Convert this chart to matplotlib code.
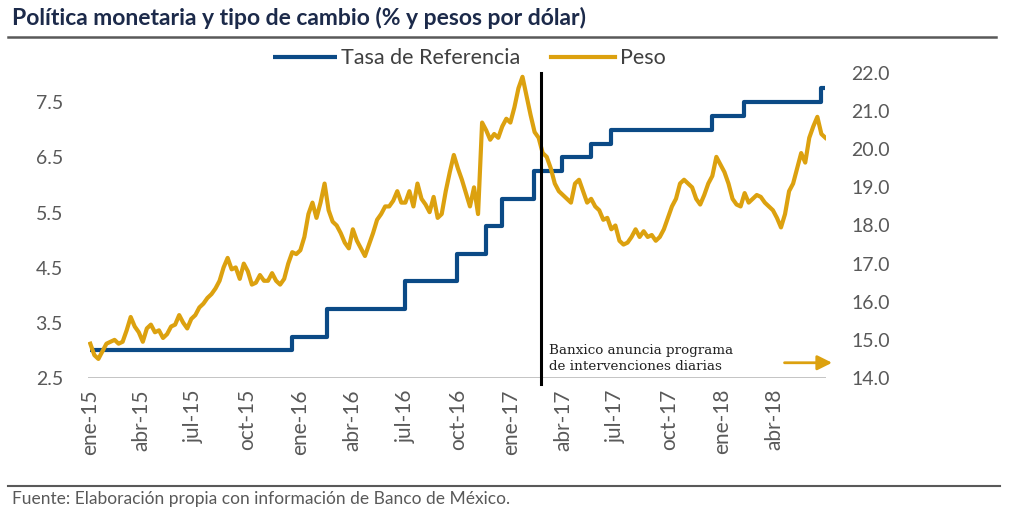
import matplotlib
matplotlib.use("Agg")
import matplotlib.pyplot as plt
import pandas as pd

plt.rcParams['font.family'] = ['Lato', 'DejaVu Sans']

# Tasa de referencia (fechas de cambio y nivel, %)
tasa_fechas = ['2015-01-02', '2015-12-17', '2016-02-17', '2016-06-30', '2016-09-29',
               '2016-11-17', '2016-12-15', '2017-02-09', '2017-03-30', '2017-05-18',
               '2017-06-22', '2017-12-14', '2018-02-08', '2018-06-21', '2018-06-29']
tasa_valores = [3.00, 3.25, 3.75, 4.25, 4.75, 5.25, 5.75, 6.25, 6.50, 6.75,
                7.00, 7.25, 7.50, 7.75, 7.75]

# Peso por dólar, semanal (viernes) desde ene-2015
peso = [
    # 2015
    14.90, 14.60, 14.50, 14.70, 14.90,
    14.95, 15.00, 14.90, 14.95,
    15.25, 15.60, 15.35, 15.20,
    14.95, 15.30, 15.40, 15.20,
    15.25, 15.05, 15.15, 15.35, 15.40,
    15.65, 15.45, 15.30, 15.55,
    15.65, 15.85, 15.95, 16.10, 16.20,
    16.35, 16.55, 16.90, 17.15,
    16.85, 16.90, 16.60, 17.00,
    16.80, 16.45, 16.50, 16.70, 16.55,
    16.55, 16.75, 16.55, 16.45,
    16.60, 17.00, 17.30, 17.25,
    # 2016
    17.35, 17.70, 18.30, 18.60, 18.20,
    18.60, 19.10, 18.40, 18.10,
    18.00, 17.80, 17.55, 17.40,
    17.90, 17.60, 17.40, 17.20, 17.50,
    17.80, 18.15, 18.30, 18.50,
    18.50, 18.65, 18.90, 18.60,
    18.60, 18.90, 18.50, 19.10, 18.70,
    18.55, 18.35, 18.75, 18.20,
    18.30, 18.90, 19.40, 19.85, 19.50,
    19.20, 18.85, 18.50, 19.00,
    18.30, 20.70, 20.50, 20.25,
    20.40, 20.30, 20.60, 20.80, 20.70,
    # 2017
    21.10, 21.60, 21.90, 21.40,
    20.90, 20.45, 20.30, 19.90,
    19.80, 19.50, 19.10, 18.90, 18.80,
    18.70, 18.60, 19.10, 19.20,
    18.90, 18.60, 18.70, 18.50,
    18.40, 18.15, 18.20, 17.90, 18.00,
    17.60, 17.50, 17.55, 17.70,
    17.90, 17.70, 17.85, 17.70,
    17.75, 17.60, 17.70, 17.90, 18.20,
    18.50, 18.70, 19.10, 19.20,
    19.10, 19.00, 18.70, 18.55,
    18.80, 19.10, 19.30, 19.80, 19.60,
    # 2018
    19.40, 19.10, 18.70, 18.55,
    18.50, 18.85, 18.60, 18.70,
    18.80, 18.75, 18.60, 18.50, 18.40,
    18.20, 17.95, 18.30, 18.90,
    19.10, 19.50, 19.90, 19.65,
    20.30, 20.60, 20.85, 20.40, 20.30,
]
peso_fechas = pd.date_range('2015-01-02', periods=len(peso), freq='W-FRI')

ticks_x = pd.date_range('2015-01-01', '2018-04-01', freq='QS')
ticks_x_etiquetas = ['ene-15', 'abr-15', 'jul-15', 'oct-15', 'ene-16', 'abr-16', 'jul-16',
                     'oct-16', 'ene-17', 'abr-17', 'jul-17', 'oct-17', 'ene-18', 'abr-18']
ticks_izq = [2.5, 3.5, 4.5, 5.5, 6.5, 7.5]
ticks_der = [14, 15, 16, 17, 18, 19, 20, 21, 22]

fecha_anuncio = pd.Timestamp('2017-02-21')

azul = '#0b4a86'
oro = '#dca10f'
gris = '#595959'

fig = plt.figure(figsize=(10.24, 5.2), dpi=100)
ax = fig.add_axes([88/1024, 1 - 378/520, (826 - 88)/1024, (378 - 73)/520])
ax2 = ax.twinx()

ax.plot(pd.to_datetime(tasa_fechas), tasa_valores, drawstyle='steps-post',
        color=azul, lw=3.0, label='Tasa de Referencia', solid_capstyle='butt')
ax2.plot(peso_fechas, peso, color=oro, lw=3.0, label='Peso', solid_joinstyle='round')

ax.set_xlim(pd.Timestamp('2014-12-29'), pd.Timestamp('2018-06-30'))
ax.set_ylim(2.5, 8.03)
ax2.set_ylim(14, 22)

ax.set_yticks(ticks_izq)
ax.set_yticklabels([f'{v:.1f}' for v in ticks_izq])
ax2.set_yticks(ticks_der)
ax2.set_yticklabels([f'{v:.1f}' for v in ticks_der])
ax.set_xticks(ticks_x)
ax.set_xticklabels(ticks_x_etiquetas, rotation=90)

for a in (ax, ax2):
    for s in a.spines.values():
        s.set_visible(False)
    a.tick_params(length=0, labelsize=14, labelcolor=gris)
ax.tick_params(axis='x', labelsize=15, pad=8)
ax.tick_params(axis='y', pad=18)
ax2.tick_params(axis='y', pad=18)
ax.axhline(2.5, color='#bfbfbf', lw=2, zorder=0)

ax2.axvline(fecha_anuncio, ymin=-0.02, ymax=1.0, color='black', lw=2.2, clip_on=False)
ax2.text(pd.Timestamp('2017-03-07'), 14.88, 'Banxico anuncia programa\nde intervenciones diarias',
         family='DejaVu Serif', fontsize=9.7, color='#222222', va='top', ha='left',
         linespacing=1.25)
ax2.annotate('', xy=(1.012, 0.05), xytext=(0.94, 0.05), xycoords='axes fraction',
             arrowprops=dict(arrowstyle='-|>', color=oro, lw=2, mutation_scale=22))

h1, l1 = ax.get_legend_handles_labels()
h2, l2 = ax2.get_legend_handles_labels()
fig.legend(h1 + h2, l1 + l2, loc='center', bbox_to_anchor=(0.458, 0.888), ncol=2,
           frameon=False, fontsize=15.5, handlelength=3.0, handletextpad=0.2,
           columnspacing=1.4, labelcolor='#404040')

fig.text(12/1024, 1 - 18/520, 'Política monetaria y tipo de cambio (% y pesos por dólar)',
         fontsize=16.5, fontweight='bold', color='#1c2a4a', va='center', ha='left')
fig.add_artist(plt.Line2D([8/1024, 996/1024], [1 - 37/520] * 2, color='#595959', lw=1.8))
fig.add_artist(plt.Line2D([8/1024, 1000/1024], [1 - 486/520] * 2, color='#595959', lw=1.5))
fig.text(12/1024, 1 - 499/520, 'Fuente: Elaboración propia con información de Banco de México.',
         fontsize=12.5, color=gris, va='center', ha='left')

fig.savefig('out.png', dpi=100)
